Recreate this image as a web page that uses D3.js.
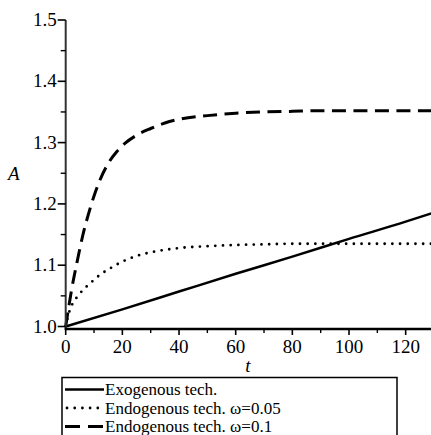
<!DOCTYPE html>
<html><head><meta charset="utf-8"><script src="https://cdn.jsdelivr.net/npm/d3@7"></script></head>
<body style="margin:0">
<script>
// Technology level A over time t
const tExo  = [0, 20, 40, 60, 80, 100, 120, 130];
const aExo  = [1.000, 1.028, 1.057, 1.086, 1.114, 1.143, 1.171, 1.186];

const tEndo = [0, 1, 2, 4, 6, 8, 10, 12, 15, 18, 21, 25, 30, 35, 40, 50, 60, 70, 80, 90, 100, 110, 120, 130];
const aEndo05 = [1.000, 1.020, 1.033, 1.048, 1.059, 1.068, 1.076, 1.084, 1.093, 1.101, 1.108, 1.115,
                 1.121, 1.125, 1.128, 1.131, 1.133, 1.134, 1.135, 1.135, 1.135, 1.135, 1.135, 1.135];
const aEndo10 = [1.000, 1.030, 1.058, 1.105, 1.148, 1.183, 1.213, 1.238, 1.266, 1.285, 1.299, 1.312,
                 1.323, 1.332, 1.338, 1.344, 1.348, 1.350, 1.351, 1.352, 1.352, 1.352, 1.352, 1.352];

const xMajorTicks = [0, 20, 40, 60, 80, 100, 120];
const xMinorTicks = [10, 30, 50, 70, 90, 110, 130];
const yMajorTicks = ["1.0", "1.1", "1.2", "1.3", "1.4", "1.5"];
const yMinorTicks = [1.05, 1.15, 1.25, 1.35, 1.45];

const legendLabels = ["Exogenous tech.", "Endogenous tech. \u03c9=0.05", "Endogenous tech. \u03c9=0.1"];
const lineStyles = [
  { width: 2.5, dash: null, cap: "butt" },
  { width: 2.8, dash: "0,7.7", cap: "round" },
  { width: 3.0, dash: "14,7.5", cap: "butt" }
];

const W = 431, H = 435;
const svg = d3.select("body").append("svg").attr("width", W).attr("height", H)
  .style("display", "block");

const x = d3.scaleLinear().domain([0, 130]).range([65.7, 434]);
const y = d3.scaleLinear().domain([1.0, 1.5]).range([326.5, 20]);

svg.append("clipPath").attr("id", "plotclip")
  .append("rect").attr("x", 60).attr("y", 0).attr("width", W - 60).attr("height", 330);

// curves
const line = d3.line().x(d => x(d[0])).y(d => y(d[1])).curve(d3.curveMonotoneX);
const series = [
  d3.zip(tExo, aExo),
  d3.zip(tEndo, aEndo05),
  d3.zip(tEndo, aEndo10)
];
const plot = svg.append("g").attr("clip-path", "url(#plotclip)");
series.forEach((s, i) => {
  const st = lineStyles[i];
  plot.append("path").datum(s)
    .attr("d", line)
    .attr("fill", "none")
    .attr("stroke", "#000")
    .attr("stroke-width", st.width)
    .attr("stroke-linecap", st.cap)
    .attr("stroke-dasharray", st.dash);
});

// y axis
const yAxis = svg.append("g").attr("transform", `translate(${x(0)},0)`);
yAxis.append("line").attr("x1", 0).attr("x2", 0).attr("y1", y(1.5)).attr("y2", y(1.0) + 3)
  .attr("stroke", "#333").attr("stroke-width", 2);
yAxis.selectAll(".ymaj").data(yMajorTicks).join("line")
  .attr("x1", -8).attr("x2", 0).attr("y1", d => y(+d)).attr("y2", d => y(+d))
  .attr("stroke", "#000").attr("stroke-width", 1.6);
yAxis.selectAll(".ymin").data(yMinorTicks).join("line")
  .attr("x1", -5).attr("x2", 0).attr("y1", d => y(d)).attr("y2", d => y(d))
  .attr("stroke", "#000").attr("stroke-width", 1.4);

// x axis
const xAxisY = y(1.0) + 2.5;
const xAxis = svg.append("g").attr("transform", `translate(0,${xAxisY})`);
xAxis.append("line").attr("x1", x(0) - 1).attr("x2", W).attr("y1", 0).attr("y2", 0)
  .attr("stroke", "#000").attr("stroke-width", 2.5);
xAxis.selectAll(".xmaj").data(xMajorTicks).join("line")
  .attr("x1", d => x(d)).attr("x2", d => x(d)).attr("y1", 0).attr("y2", 6)
  .attr("stroke", "#000").attr("stroke-width", 1.6);
xAxis.selectAll(".xmin").data(xMinorTicks).join("line")
  .attr("x1", d => x(d)).attr("x2", d => x(d)).attr("y1", 0).attr("y2", 4)
  .attr("stroke", "#000").attr("stroke-width", 1.4);

// legend frame and samples
const lg = svg.append("g");
lg.append("rect").attr("x", 62).attr("y", 377.5).attr("width", 335).attr("height", 80)
  .attr("fill", "#fff").attr("stroke", "#000").attr("stroke-width", 1.5);
const rowY = i => 389.5 + i * 18.5;
legendLabels.forEach((lab, i) => {
  const st = lineStyles[i];
  lg.append("line").attr("x1", i === 1 ? 67 : 65).attr("x2", 104).attr("y1", rowY(i)).attr("y2", rowY(i))
    .attr("stroke", "#000").attr("stroke-width", st.width)
    .attr("stroke-linecap", st.cap)
    .attr("stroke-dasharray", i === 2 ? "15,8" : st.dash);
});

// every label of the chart, set in a Times-like serif face
const labels = [];
yMajorTicks.forEach(d => labels.push({ t: d, x: x(0) - 9, y: y(+d) + 6, a: "end", s: 19 }));
xMajorTicks.forEach(d => labels.push({ t: String(d), x: x(d), y: xAxisY + 23.5, a: "middle", s: 19 }));
labels.push({ t: "A", x: 8, y: 180, a: "start", s: 19, it: true });
labels.push({ t: "t", x: 248, y: 372, a: "middle", s: 19, it: true });
legendLabels.forEach((lab, i) => labels.push({ t: lab, x: 105, y: rowY(i) + 5.5, a: "start", s: 17 }));

svg.selectAll("text.lbl").data(labels).join("text")
  .attr("class", "lbl")
  .attr("x", d => d.x).attr("y", d => d.y)
  .attr("text-anchor", d => d.a)
  .style("font", d => `${d.it ? "italic " : ""}${d.s}px "Times New Roman", "Liberation Serif", Tinos, serif`)
  .text(d => d.t);
</script></body></html>
